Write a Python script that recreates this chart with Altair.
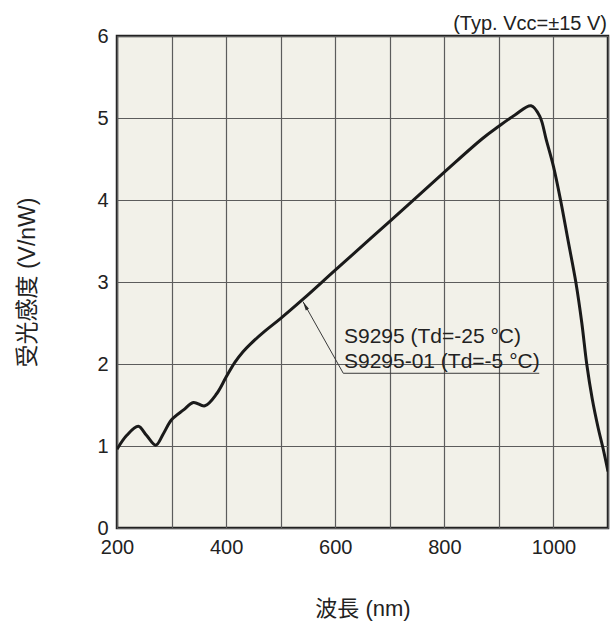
import altair as alt
import pandas as pd

# Spectral response curve
wavelength_nm = [200, 218, 239, 254, 271, 285, 300, 322, 340, 361, 383, 400,
                 416, 431, 444, 471, 499, 541, 601, 700, 800, 870, 900, 930,
                 959, 975, 987, 1000, 1013, 1027, 1041, 1052, 1061, 1071,
                 1082, 1091, 1100]
responsivity = [0.96, 1.13, 1.24, 1.13, 1.01, 1.15, 1.32, 1.44, 1.53, 1.49,
                1.64, 1.84, 2.02, 2.15, 2.24, 2.40, 2.55, 2.79, 3.15, 3.74,
                4.34, 4.75, 4.90, 5.04, 5.15, 5.02, 4.73, 4.41, 4.00, 3.50,
                3.00, 2.50, 2.00, 1.58, 1.22, 0.97, 0.69]

# Axis ticks
x_grid_values = [200, 300, 400, 500, 600, 700, 800, 900, 1000, 1100]
y_tick_values = [0, 1, 2, 3, 4, 5, 6]

# Callout: leader from the curve to the label underline
leader_x = [541, 614.8, 974]
leader_y = [2.76, 1.887, 1.887]
label_lines = ["S9295 (Td=-25 °C)", "S9295-01 (Td=-5 °C)"]
label_x = [616, 616]
label_y = [2.256, 1.95]
condition_note = "(Typ. Vcc=±15 V)"

FONT = "Liberation Sans"
CJK_FONT = "Liberation Sans, Noto Sans CJK JP"
INK = "#222222"
GRID = "#5c5c5c"

curve = pd.DataFrame({"wl": wavelength_nm, "r": responsivity})
leader = pd.DataFrame({"wl": leader_x, "r": leader_y, "k": [0, 1, 2]})
labels = pd.DataFrame({"wl": label_x, "r": label_y, "t": label_lines})
tip = leader.iloc[[0]]

x_scale = alt.Scale(domain=[200, 1100], nice=False, zero=False)
y_scale = alt.Scale(domain=[0, 6], nice=False)

x_axis = alt.Axis(
    values=x_grid_values,
    format="d",
    labelExpr="datum.value % 200 == 0 ? datum.label : ''",
    labelFlush=False,
    title="波長 (nm)",
    titleFont=CJK_FONT, titleFontSize=22, titleFontWeight="normal",
    titleColor=INK, titleX=245.5, titleY=80, titleBaseline="middle",
    titleAlign="center",
    labelFont=FONT, labelFontSize=20, labelColor=INK, labelPadding=9,
    ticks=False, domain=False,
    grid=True, gridColor=GRID, gridWidth=1.2,
)
y_axis = alt.Axis(
    values=y_tick_values,
    format="d",
    labelFlush=False,
    title="受光感度 (V/nW)",
    titleFont=CJK_FONT, titleFontSize=23, titleFontWeight="normal",
    titleColor=INK, titleX=-90, titleY=246, titleAngle=270,
    titleBaseline="middle", titleAlign="center",
    labelFont=FONT, labelFontSize=20, labelColor=INK, labelPadding=9,
    ticks=False, domain=False,
    grid=True, gridColor=GRID, gridWidth=1.2,
)

line = alt.Chart(curve).mark_line(
    color="#1a1a1a", strokeWidth=3, interpolate="catmull-rom", clip=True
).encode(
    x=alt.X("wl:Q", scale=x_scale, axis=x_axis),
    y=alt.Y("r:Q", scale=y_scale, axis=y_axis),
)

leader_line = alt.Chart(leader).mark_line(
    color="#3a3a3a", strokeWidth=1
).encode(
    x=alt.X("wl:Q", scale=x_scale),
    y=alt.Y("r:Q", scale=y_scale),
    order="k:Q",
)

arrow_head = alt.Chart(tip).mark_point(
    shape="M0,0L0.4,2L-0.4,2Z", filled=True, color="#2a2a2a",
    size=81, opacity=1
).encode(
    x=alt.X("wl:Q", scale=x_scale),
    y=alt.Y("r:Q", scale=y_scale),
    angle=alt.value(331),
)

label_text = alt.Chart(labels).mark_text(
    align="left", baseline="alphabetic", font=FONT, fontSize=21, color=INK
).encode(
    x=alt.X("wl:Q", scale=x_scale),
    y=alt.Y("r:Q", scale=y_scale),
    text="t:N",
)

note = alt.Chart(pd.DataFrame({"t": [condition_note]})).mark_text(
    align="right", baseline="alphabetic", font=FONT, fontSize=20, color=INK
).encode(
    x=alt.value(490),
    y=alt.value(-6),
    text="t:N",
)

chart = alt.layer(line, leader_line, arrow_head, label_text, note).properties(
    width=491,
    height=492,
    autosize=alt.AutoSizeParams(type="none"),
    padding={"left": 117, "top": 36, "right": 3, "bottom": 95},
    background="white",
).configure_view(
    fill="#F2F1E9", stroke=INK, strokeWidth=2.5
)

chart.save("out.html", embed_options={"renderer": "svg", "actions": False})
